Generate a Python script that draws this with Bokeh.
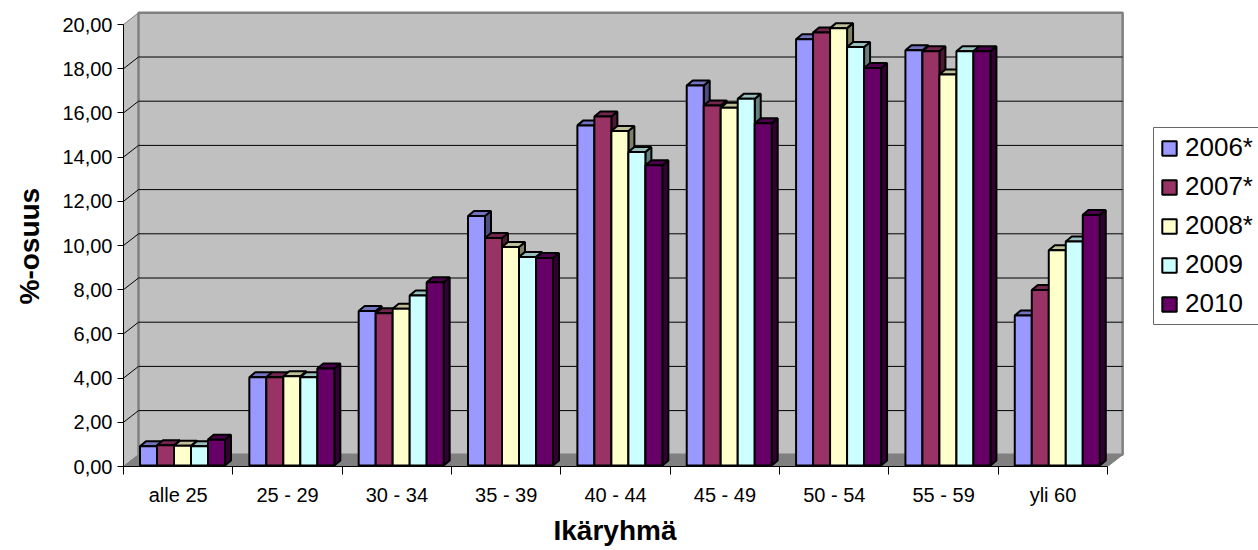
from bokeh.plotting import figure
from bokeh.embed import file_html
from bokeh.resources import INLINE
from bokeh.models import FixedTicker, Legend, LegendItem, Range1d, Title

categories = ["alle 25", "25 - 29", "30 - 34", "35 - 39", "40 - 44", "45 - 49", "50 - 54", "55 - 59", "yli 60"]
series_names = ["2006*", "2007*", "2008*", "2009", "2010"]
v2006 = [0.87, 3.99, 6.99, 11.29, 15.39, 17.19, 19.29, 18.79, 6.79]
v2007 = [0.92, 3.99, 6.89, 10.29, 15.79, 16.29, 19.59, 18.74, 7.94]
v2008 = [0.89, 4.04, 7.09, 9.89, 15.14, 16.19, 19.79, 17.69, 9.74]
v2009 = [0.87, 3.99, 7.69, 9.44, 14.19, 16.59, 18.94, 18.74, 10.14]
v2010 = [1.17, 4.39, 8.29, 9.39, 13.59, 15.49, 17.99, 18.74, 11.34]
all_series = [v2006, v2007, v2008, v2009, v2010]
front_colors = ["#9999FF", "#993366", "#FFFFCC", "#CCFFFF", "#660066"]
top_colors = ["#7373BF", "#73264D", "#BFBF99", "#99BFBF", "#4D004D"]
side_colors = ["#4D4D80", "#4D1A33", "#808066", "#668080", "#330033"]
y_ticks = list(range(0, 21, 2))

# frame origin inside the figure, and pixel scale
X0, Y0 = 123, 466
PX_CAT, PX_VAL = 109.35, 22.1
W, H = 1258, 550
DX, DY = 15.0 / PX_CAT, 11.7 / PX_VAL          # wall depth
BAR_W = 17.0 / PX_CAT
BAR_SX, BAR_SY = 4.3 / PX_CAT, 1.0 / PX_VAL    # bar front offset inside depth
BAR_DX, BAR_DY = 6.0 / PX_CAT, 5.0 / PX_VAL    # bar depth

p = figure(width=W, height=H, output_backend="svg", toolbar_location=None,
           x_range=Range1d(0, (W - X0) / PX_CAT), y_range=Range1d(0, Y0 / PX_VAL),
           min_border_left=X0, min_border_right=0, min_border_top=0,
           min_border_bottom=H - Y0, outline_line_color=None,
           background_fill_color="white", border_fill_color="white")
p.grid.visible = False

n = len(categories)
top = y_ticks[-1]
# walls
p.patch([0, DX, DX, 0], [0, DY, top + DY, top], fill_color="#C0C0C0", line_color="#808080", line_width=1)
p.patch([DX, n + DX, n + DX, DX], [DY, DY, top + DY, top + DY], fill_color="#C0C0C0", line_color="#808080", line_width=2.5)
p.patch([0, n, n + DX, DX], [0, 0, DY, DY], fill_color="#808080", line_color="#808080", line_width=1)
# gridlines on back wall and side wall
for t in y_ticks[1:-1]:
    p.line([DX, n + DX], [t + DY, t + DY], line_color="#000000", line_width=1)
    p.line([0, DX], [t, t + DY], line_color="#000000", line_width=1)

# legend frame: open at the picture's right edge
p.quad(left=[(1153 - X0) / PX_CAT], right=[(W + 20 - X0) / PX_CAT],
       bottom=[(Y0 - 324) / PX_VAL], top=[(Y0 - 127) / PX_VAL],
       fill_color="white", line_color="#666666", line_width=1)

items = []
for s, vals in enumerate(all_series):
    lefts = [i + 0.5 - 2.5 * BAR_W + s * BAR_W + BAR_SX for i in range(n)]
    rights = [l + BAR_W for l in lefts]
    side_x = [[r, r + BAR_DX, r + BAR_DX, r] for r in rights]
    side_y = [[BAR_SY, BAR_SY + BAR_DY, BAR_SY + v + BAR_DY, BAR_SY + v] for v in vals]
    top_x = [[l, l + BAR_DX, r + BAR_DX, r] for l, r in zip(lefts, rights)]
    top_y = [[BAR_SY + v, BAR_SY + v + BAR_DY, BAR_SY + v + BAR_DY, BAR_SY + v] for v in vals]
    p.patches(side_x, side_y, fill_color=side_colors[s], line_color="#000000", line_width=2)
    p.patches(top_x, top_y, fill_color=top_colors[s], line_color="#000000", line_width=2)
    q = p.quad(left=lefts, right=rights, bottom=[BAR_SY] * n, top=[BAR_SY + v for v in vals],
               fill_color=front_colors[s], line_color="#000000", line_width=2)
    items.append(LegendItem(label=series_names[s], renderers=[q]))

legend = Legend(items=items, location=(1153 - X0, Y0 - 326), orientation="vertical",
                border_line_alpha=0, background_fill_alpha=0,
                label_text_font="Liberation Sans", label_text_font_size="26px", label_text_color="#000000",
                glyph_width=18, glyph_height=18, label_standoff=7, spacing=8, padding=7, margin=0,
                label_height=28)
p.add_layout(legend)

# axes
xa = p.xaxis[0]
xa.ticker = FixedTicker(ticks=[i + 0.5 for i in range(n)], minor_ticks=list(range(n + 1)))
xa.major_label_overrides = {i + 0.5: c for i, c in enumerate(categories)}
xa.bounds = (0, n)
xa.major_tick_out = 0
xa.major_tick_in = 0
xa.minor_tick_out = 8
xa.minor_tick_in = 0
xa.axis_line_color = "#000000"
xa.minor_tick_line_color = "#000000"
xa.major_label_text_font = "Liberation Sans"
xa.major_label_text_font_size = "20px"
xa.major_label_text_color = "#000000"
xa.major_label_standoff = 9

ya = p.yaxis[0]
ya.ticker = FixedTicker(ticks=y_ticks)
ya.major_label_overrides = {t: f"{t:.2f}".replace(".", ",") for t in y_ticks}
ya.bounds = (0, top)
ya.major_tick_out = 6
ya.major_tick_in = 0
ya.minor_tick_out = 0
ya.minor_tick_in = 0
ya.axis_line_color = "#000000"
ya.major_tick_line_color = "#000000"
ya.major_label_text_font = "Liberation Sans"
ya.major_label_text_font_size = "20px"
ya.major_label_text_color = "#000000"
ya.major_label_standoff = 5

# axis titles, placed along the axes
p.add_layout(Title(text="Ikäryhmä", align="left", offset=430, standoff=8,
                   text_font="Liberation Sans", text_font_style="bold", text_font_size="28px",
                   text_color="#000000"), "below")
p.add_layout(Title(text="%-osuus", align="left", offset=162, standoff=26, vertical_align="top",
                   text_font="Liberation Sans", text_font_style="bold", text_font_size="28px",
                   text_color="#000000"), "left")

open("out.html", "w").write(file_html(p, INLINE))
